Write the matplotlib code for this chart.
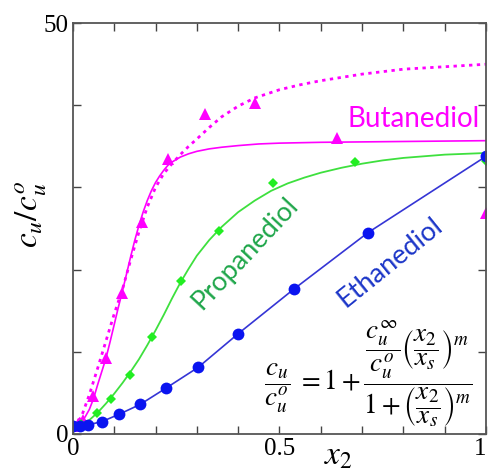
import numpy as np
import matplotlib.pyplot as plt

plt.rcParams['mathtext.fontset'] = 'stix'

# Ethanediol (circles)
eth_x = [0, 0.017, 0.036, 0.07, 0.112, 0.163, 0.226, 0.303, 0.40, 0.534, 0.714, 1.0]
eth_y = [1.0, 1.0, 1.1, 1.5, 2.4, 3.6, 5.6, 8.1, 12.2, 17.6, 24.5, 33.8]

# Propanediol (diamonds) and its fitted curve
prop_x = [0.02, 0.058, 0.092, 0.138, 0.192, 0.262, 0.354, 0.485, 0.682, 1.0]
prop_y = [1.2, 2.5, 4.3, 7.2, 11.8, 18.6, 24.7, 30.6, 33.1, 33.2]
prop_fit_x = [0, .02, .04, .06, .08, .10, .12, .14, .16, .18, .20, .22, .24, .26, .28, .30,
              .33, .36, .40, .44, .48, .52, .56, .60, .65, .70, .75, .80, .85, .90, .95, 1.0]
prop_fit_y = [1.0, 1.2, 1.7, 2.6, 3.7, 4.9, 6.2, 7.6, 9.1, 10.8, 12.6, 14.5, 16.5, 18.4, 20.1, 21.7,
              23.6, 25.2, 27.0, 28.4, 29.6, 30.5, 31.2, 31.8, 32.4, 32.9, 33.3, 33.6, 33.8, 34.0, 34.1, 34.2]

# Butanediol (triangles) with two fitted curves
but_x = [0, 0.012, 0.024, 0.049, 0.08, 0.12, 0.167, 0.231, 0.32, 0.44, 0.64, 1.0]
but_y = [1.0, 1.2, 1.7, 4.6, 9.3, 17.2, 25.8, 33.5, 38.9, 40.3, 36.0, 26.9]
but_fit_x = [0, .01, .02, .03, .04, .05, .06, .07, .08, .09, .10, .11, .12, .13, .14, .15, .16,
             .17, .18, .19, .20, .21, .22, .23, .24, .26, .28, .30, .33, .36, .40, .45, .50,
             .60, .70, .80, .90, 1.0]
but_fit_y = [1.0, 1.1, 1.4, 2.1, 3.0, 4.3, 6.0, 7.6, 9.2, 11.2, 13.3, 15.4, 17.4, 19.5, 21.6, 23.6, 25.4,
             27.0, 28.4, 29.6, 30.6, 31.4, 32.1, 32.7, 33.1, 33.7, 34.1, 34.4, 34.7, 34.9, 35.1, 35.3, 35.4,
             35.5, 35.55, 35.6, 35.65, 35.7]
but_dot_x = [0, .02, .04, .06, .08, .10, .12, .14, .16, .18, .20, .22, .24, .26, .28, .30, .33,
             .36, .40, .44, .50, .55, .60, .70, .80, .90, 1.0]
but_dot_y = [1.0, 2.0, 4.8, 8.0, 11.3, 14.6, 17.6, 21.2, 24.6, 27.6, 30.0, 31.7, 32.9, 34.0, 35.0, 35.9, 37.3,
             38.6, 39.9, 40.9, 41.9, 42.5, 43.0, 43.8, 44.4, 44.7, 45.0]

fig = plt.figure(figsize=(4.89, 4.73), dpi=100)
ax = fig.add_axes([0.149, 0.0825, 0.845, 0.8685])

ax.plot(but_dot_x, but_dot_y, color='#ff00ff', lw=2, ls=(0, (1.2, 1.6)))
ax.plot(but_fit_x, but_fit_y, color='#ff00ff', lw=1.2)
ax.plot(but_x, but_y, '^', color='#ff00ff', ms=9, mew=0)

ax.plot(prop_fit_x, prop_fit_y, color='#3ee03e', lw=1.3)
ax.plot(prop_x, prop_y, 'D', color='#22ee22', ms=5.5, mew=0)

ax.plot(eth_x, eth_y, color='#3535d5', lw=1.2)
ax.plot(eth_x, eth_y, 'o', color='#0a14f0', ms=8.5, mew=0)

# labels of the series
ax.text(0.985, 0.767, 'Butanediol', color='#ff00ff', fontsize=20, family='Lato',
        ha='right', va='center', transform=ax.transAxes)
ax.text(0.418, 0.44, 'Propanediol', color='#1fa64a', fontsize=19.5, family='Lato',
        rotation=47, ha='center', va='center', transform=ax.transAxes)
ax.text(0.768, 0.418, 'Ethanediol', color='#1c36c8', fontsize=19.5, family='Lato',
        rotation=39, ha='center', va='center', transform=ax.transAxes)

# fitting equation
eq = (r'$\dfrac{c_u}{c_u^o}\;=1+\dfrac{\dfrac{c_u^\infty}{c_u^o}\left(\dfrac{x_2}{x_s}\right)^m}'
      r'{1+\left(\dfrac{x_2}{x_s}\right)^m}$')
ax.text(0.714, 0.148, eq, fontsize=19.5, ha='center', va='center', transform=ax.transAxes)

ax.set_xlim(0, 1)
ax.set_ylim(0, 50)
ax.set_xticks(np.arange(0, 1.01, 0.1))
ax.set_xticklabels(['0', '', '', '', '', '0.5', '', '', '', '', '1'])
ax.set_yticks(np.arange(0, 51, 10))
ax.set_yticklabels(['0', '', '', '', '', '50'])
ax.tick_params(direction='in', length=6, width=1, color='#444444',
               top=True, right=True, labelsize=18, pad=3)
for lab in ax.get_xticklabels() + ax.get_yticklabels():
    lab.set_family('Liberation Serif')
ax.get_xticklabels()[-1].set_horizontalalignment('right')
for s in ax.spines.values():
    s.set_color('#555555')
    s.set_linewidth(1.3)

ax.text(0.642, -0.092, r'$x_2$', fontsize=24, ha='center', va='bottom', transform=ax.transAxes)
ax.text(-0.1, 0.535, r'$c_u/c_u^o$', fontsize=24, rotation=90, ha='center', va='center',
        transform=ax.transAxes)

plt.savefig('out.png', dpi=100)
